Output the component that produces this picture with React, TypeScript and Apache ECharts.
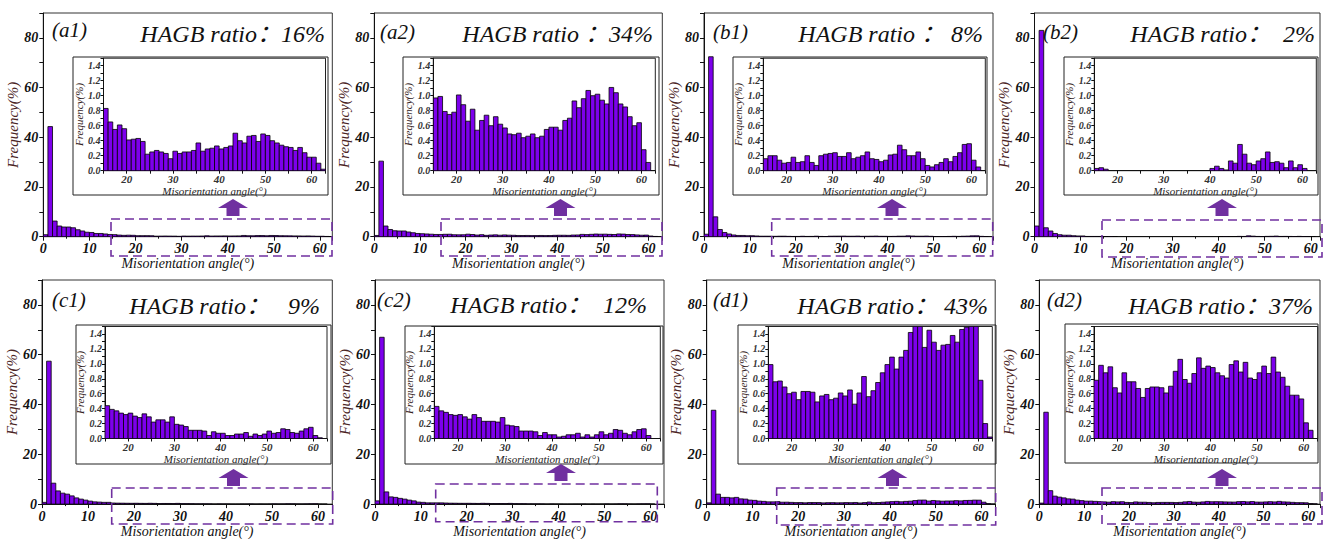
import React, { useEffect, useRef } from "react";
import * as echarts from "echarts";

const FONT = "Liberation Serif";
const RATIO_FONT = "Liberation Serif, Noto Sans CJK SC";
const BAR_FILL = "#7d00ec";
const PURPLE = "#7030a0";

const panelTags = ["(a1)", "(a2)", "(b1)", "(b2)", "(c1)", "(c2)", "(d1)", "(d2)"];
const ratioTexts = [
  "HAGB ratio：16%",
  "HAGB ratio ：34%",
  "HAGB ratio ： 8%",
  "HAGB ratio：  2%",
  "HAGB ratio：   9%",
  "HAGB ratio：  12%",
  "HAGB ratio： 43%",
  "HAGB ratio：37%",
];

const mainXTicks = [0, 10, 20, 30, 40, 50, 60];
const mainYTicks = [0, 20, 40, 60, 80];
const insetXTicks = [20, 30, 40, 50, 60];
const insetYTicks = [0, 0.2, 0.4, 0.6, 0.8, 1.0, 1.2, 1.4];

// Low-angle bins 0..14 (1° bins), main scale
const a1Low = [0.8, 44.3, 6.3, 4.3, 3.9, 3.9, 3.6, 2.8, 2.3, 1.8, 1.7, 1.3, 1.3, 1.1, 0.9];
const a2Low = [0.5, 30.4, 4.3, 2.9, 2.4, 2.3, 2.3, 1.9, 1.6, 1.3, 1.2, 1.1, 1.0, 0.9, 0.9];
const b1Low = [1.0, 72.4, 8.0, 2.9, 1.7, 1.1, 0.7, 0.5, 0.5, 0.4, 0.4, 0.3, 0.2, 0.2, 0.2];
const b2Low = [4.3, 83.0, 3.6, 2.3, 1.3, 0.8, 0.6, 0.6, 0.4, 0.3, 0.3, 0.1, 0.1, 0.1, 0.1];
const c1Low = [0.7, 57.4, 8.4, 5.3, 4.4, 4.0, 3.3, 2.5, 2.0, 1.6, 1.2, 0.9, 0.8, 0.7, 0.7];
const c2Low = [1.3, 67.0, 4.9, 2.9, 2.7, 2.3, 2.0, 1.6, 1.3, 0.8, 0.7, 0.5, 0.5, 0.5, 0.5];
const d1Low = [0.5, 37.7, 4.0, 2.7, 2.7, 2.5, 2.7, 2.1, 2.0, 1.6, 1.5, 1.2, 1.1, 0.9, 0.9];
const d2Low = [0.4, 36.9, 5.4, 3.2, 2.8, 2.5, 2.1, 2.0, 1.6, 1.4, 1.2, 1.2, 1.1, 1.0, 0.9];

// High-angle bins 15..62 (1° bins), shown in the insets
const a1High = [
  0.83, 0.65, 0.55, 0.61, 0.56, 0.41, 0.42, 0.43, 0.39, 0.22,
  0.25, 0.27, 0.25, 0.23, 0.16, 0.26, 0.23, 0.25, 0.25, 0.27,
  0.37, 0.26, 0.29, 0.30, 0.33, 0.29, 0.31, 0.33, 0.50, 0.40,
  0.37, 0.46, 0.47, 0.39, 0.49, 0.47, 0.40, 0.37, 0.34, 0.32,
  0.31, 0.27, 0.31, 0.24, 0.18, 0.18, 0.10, 0.02,
];
const a2High = [
  0.97, 0.99, 0.79, 0.75, 0.78, 1.01, 0.88, 0.66, 0.82, 0.54,
  0.67, 0.74, 0.60, 0.72, 0.62, 0.57, 0.49, 0.48, 0.50, 0.44,
  0.46, 0.49, 0.44, 0.46, 0.55, 0.58, 0.58, 0.54, 0.67, 0.70,
  0.93, 0.84, 0.96, 1.07, 1.00, 1.02, 0.94, 0.89, 1.11, 1.04,
  0.89, 0.85, 0.72, 0.60, 0.64, 0.28, 0.11, 0,
];
const b1High = [
  0.16, 0.20, 0.20, 0.14, 0.10, 0.11, 0.18, 0.11, 0.12, 0.20,
  0.11, 0.07, 0.20, 0.22, 0.23, 0.24, 0.19, 0.19, 0.24, 0.16,
  0.18, 0.20, 0.25, 0.16, 0.15, 0.12, 0.14, 0.21, 0.22, 0.34,
  0.28, 0.20, 0.20, 0.25, 0.16, 0.07, 0.05, 0.08, 0.11, 0.16,
  0.12, 0.19, 0.24, 0.35, 0.36, 0.14, 0.05, 0,
];
const b2High = [
  0.03, 0.04, 0.02, 0, 0, 0, 0, 0, 0, 0,
  0, 0, 0, 0, 0, 0, 0, 0, 0, 0,
  0, 0, 0, 0, 0, 0.03, 0.06, 0.03, 0.01, 0.13,
  0.10, 0.35, 0.22, 0.10, 0.08, 0.13, 0.16, 0.25, 0.11, 0.12,
  0.10, 0.04, 0.13, 0.04, 0.08, 0.03, 0, 0,
];
const c1High = [
  0.44, 0.39, 0.37, 0.34, 0.32, 0.34, 0.30, 0.28, 0.33, 0.29,
  0.22, 0.25, 0.25, 0.22, 0.29, 0.19, 0.18, 0.16, 0.11, 0.11,
  0.11, 0.10, 0.04, 0.09, 0.07, 0.07, 0.04, 0.04, 0.06, 0.06,
  0.08, 0.03, 0.06, 0.04, 0.06, 0.10, 0.07, 0.08, 0.13, 0.12,
  0.08, 0.07, 0.10, 0.13, 0.15, 0.04, 0.01, 0,
];
const c2High = [
  0.43, 0.37, 0.35, 0.32, 0.31, 0.32, 0.29, 0.26, 0.32, 0.28,
  0.23, 0.23, 0.23, 0.22, 0.28, 0.18, 0.17, 0.16, 0.10, 0.10,
  0.10, 0.09, 0.04, 0.08, 0.05, 0.05, 0.02, 0.03, 0.05, 0.05,
  0.07, 0.02, 0.05, 0.02, 0.05, 0.09, 0.05, 0.07, 0.12, 0.11,
  0.07, 0.05, 0.09, 0.12, 0.13, 0.04, 0, 0,
];
const d1High = [
  0.99, 0.76, 0.77, 0.69, 0.60, 0.62, 0.52, 0.63, 0.63, 0.62,
  0.49, 0.57, 0.59, 0.52, 0.54, 0.61, 0.57, 0.65, 0.46, 0.61,
  0.83, 0.56, 0.64, 0.75, 0.88, 0.99, 1.09, 0.93, 1.09, 1.18,
  1.42, 1.60, 1.62, 1.22, 1.45, 1.29, 1.18, 1.25, 1.26, 1.38,
  1.29, 1.46, 1.49, 1.60, 1.58, 0.78, 0.20, 0.02,
];
const d2High = [
  0.78, 0.98, 0.88, 0.96, 0.68, 0.61, 0.88, 0.76, 0.76, 0.67,
  0.55, 0.67, 0.69, 0.69, 0.68, 0.61, 0.70, 0.90, 1.06, 0.79,
  0.74, 0.87, 1.08, 0.94, 0.97, 0.95, 0.88, 0.84, 0.81, 0.99,
  1.04, 0.89, 1.02, 0.81, 0.79, 0.88, 0.97, 0.87, 1.09, 0.89,
  0.82, 0.70, 0.58, 0.58, 0.53, 0.21, 0.11, 0,
];

const lowSets = [a1Low, a2Low, b1Low, b2Low, c1Low, c2Low, d1Low, d2Low];
const highSets = [a1High, a2High, b1High, b2High, c1High, c2High, d1High, d2High];
const HIGH_START = 15;

// Layout (pixels): main grid [left, top, width, height], inset grid, inset box, dashed box, arrow [cx, top], tag, ratio
const layout = [
  { main: [43.3, 13, 289, 223.7], xMax: 62.7, inset: [103.5, 58.2, 222, 112.5], box: [73, 57, 255, 138], dash: [111, 219, 221, 37], arrow: [233, 199], tag: [52, 30], ratio: [325, 34] },
  { main: [374.3, 13, 288, 223.7], xMax: 63, inset: [433.3, 58.2, 222, 112.5], box: [403, 57, 256, 138], dash: [441, 219, 221, 37], arrow: [560.5, 199], tag: [380, 32], ratio: [653, 34] },
  { main: [704, 13, 289, 223.7], xMax: 63, inset: [763.3, 58.2, 222, 112.5], box: [733, 57, 254, 138], dash: [771.7, 219, 221, 37], arrow: [892, 199], tag: [713, 32], ratio: [983, 34] },
  { main: [1034.5, 13, 285.5, 223.7], xMax: 62, inset: [1094.3, 58.2, 222, 112.5], box: [1064, 57, 254, 138], dash: [1102, 220, 220, 37], arrow: [1222, 199], tag: [1043, 32], ratio: [1315, 34] },
  { main: [42, 280, 290.3, 226.7], xMax: 63.1, inset: [105, 326.5, 222, 112], box: [76, 325, 255, 139], dash: [111.7, 488, 221, 36], arrow: [233.5, 469], tag: [52, 300], ratio: [320, 306] },
  { main: [375, 280, 289, 226.7], xMax: 63, inset: [434.3, 326.5, 226, 112], box: [405, 326, 258, 138], dash: [435.7, 484, 221.6, 37.7], arrow: [561, 464], tag: [377, 300], ratio: [647, 305] },
  { main: [706.7, 280, 288.5, 226.7], xMax: 63, inset: [768.3, 326.5, 224, 112], box: [738, 325, 258, 139], dash: [776.7, 488, 219, 37], arrow: [892.5, 469], tag: [713, 300], ratio: [988, 306] },
  { main: [1039.3, 280, 281, 226.7], xMax: 62.6, inset: [1094, 326.5, 223.7, 112], box: [1065, 324, 253, 139], dash: [1102, 488, 220, 36], arrow: [1222, 469], tag: [1047, 300], ratio: [1313, 306] },
];

const near = (v: number, list: number[]) => list.some((t) => Math.abs(t - v) < 1e-6);

const renderBar = (params: any, api: any) => {
  const x0 = api.value(0);
  const v = api.value(1);
  if (!v) return null;
  const p0 = api.coord([x0, v]);
  const p1 = api.coord([x0 + 1, 0]);
  const cs = params.coordSys;
  const shape = echarts.graphic.clipRectByRect(
    { x: p0[0], y: p0[1], width: p1[0] - p0[0], height: p1[1] - p0[1] },
    { x: cs.x, y: cs.y, width: cs.width, height: cs.height }
  );
  if (!shape) return null;
  return {
    type: "rect",
    shape,
    style: { fill: BAR_FILL, stroke: "#000", lineWidth: 0.8 },
  };
};

function buildOption() {
  const grid: any[] = [];
  const xAxis: any[] = [];
  const yAxis: any[] = [];
  const series: any[] = [];
  const graphic: any[] = [];

  layout.forEach((L, i) => {
    const low = lowSets[i];
    const high = highSets[i];
    const mainData = [
      ...low.map((v, k) => [k, v]),
      ...high.map((v, k) => [HIGH_START + k, v]),
    ];
    const insetData = high.map((v, k) => [HIGH_START + k, v]);
    const row2 = L.main[1] > 100;

    // main grid
    const gm = grid.length;
    grid.push({
      left: L.main[0], top: L.main[1], width: L.main[2], height: L.main[3],
      show: true, borderColor: "#333", borderWidth: 1, backgroundColor: "transparent",
      containLabel: false,
    });
    xAxis.push({
      type: "value", gridIndex: gm, min: 0, max: L.xMax, interval: 10,
      axisLine: { show: true, onZero: false, lineStyle: { color: "#111", width: 1 } },
      axisTick: { show: true, length: 4, lineStyle: { color: "#111" } },
      minorTick: { show: true, splitNumber: 2, length: 2, lineStyle: { color: "#111" } },
      splitLine: { show: false },
      axisLabel: {
        margin: 5, fontFamily: FONT, fontStyle: "italic", fontWeight: "bold", fontSize: 14, color: "#111",
        formatter: (v: number) => (near(v, mainXTicks) ? String(Math.round(v)) : ""),
      },
      name: "Misorientation angle(°)", nameLocation: "middle", nameGap: row2 ? 19 : 20,
      nameTextStyle: { fontFamily: FONT, fontStyle: "italic", fontSize: 14, color: "#111" },
    });
    yAxis.push({
      type: "value", gridIndex: gm, min: 0, max: 90, interval: 10,
      axisLine: { show: true, onZero: false, lineStyle: { color: "#111", width: 1 } },
      axisTick: { show: true, length: 4, lineStyle: { color: "#111" } },
      splitLine: { show: false },
      axisLabel: {
        margin: 5, fontFamily: FONT, fontStyle: "italic", fontWeight: "bold", fontSize: 14, color: "#111",
        formatter: (v: number) => (near(v, mainYTicks) ? String(Math.round(v)) : ""),
      },
      name: "Frequency(%)", nameLocation: "middle", nameGap: 21, nameRotate: 90,
      nameTextStyle: { fontFamily: FONT, fontStyle: "italic", fontSize: 15, color: "#4a2424" },
    });
    series.push({
      type: "custom", xAxisIndex: gm, yAxisIndex: gm, data: mainData,
      encode: { x: 0, y: 1 }, renderItem: renderBar, silent: true, clip: true,
    });

    // inset grid
    const gi = grid.length;
    grid.push({
      left: L.inset[0], top: L.inset[1], width: L.inset[2], height: L.inset[3],
      show: true, borderColor: "#222", borderWidth: 1, backgroundColor: "#fff",
      containLabel: false, z: 5,
    });
    xAxis.push({
      type: "value", gridIndex: gi, min: 15, max: 63, interval: 5,
      axisLine: { show: true, onZero: false, lineStyle: { color: "#111", width: 1 } },
      axisTick: { show: true, length: 3, lineStyle: { color: "#111" } },
      splitLine: { show: false },
      axisLabel: {
        margin: 3, fontFamily: FONT, fontStyle: "italic", fontWeight: "bold", fontSize: 11, color: "#333",
        formatter: (v: number) => (near(v, insetXTicks) ? String(Math.round(v)) : ""),
      },
      name: "Misorientation angle(°)", nameLocation: "middle", nameGap: 14,
      nameTextStyle: { fontFamily: FONT, fontStyle: "italic", fontSize: 11, color: "#222" },
      z: 6,
    });
    yAxis.push({
      type: "value", gridIndex: gi, min: 0, max: 1.5, interval: 0.1,
      axisLine: { show: true, onZero: false, lineStyle: { color: "#111", width: 1 } },
      axisTick: { show: true, length: 3, lineStyle: { color: "#111" } },
      splitLine: { show: false },
      axisLabel: {
        margin: 3, fontFamily: FONT, fontStyle: "italic", fontWeight: "bold", fontSize: 10, color: "#333",
        formatter: (v: number) => (near(v, insetYTicks) ? v.toFixed(1) : ""),
      },
      name: "Frequency(%)", nameLocation: "middle", nameGap: 19, nameRotate: 90,
      nameTextStyle: { fontFamily: FONT, fontStyle: "italic", fontSize: 11, color: "#332222" },
      z: 6,
    });
    series.push({
      type: "custom", xAxisIndex: gi, yAxisIndex: gi, data: insetData,
      encode: { x: 0, y: 1 }, renderItem: renderBar, silent: true, clip: true, z: 7,
    });

    // inset outer box
    graphic.push({
      type: "rect", shape: { x: L.box[0], y: L.box[1], width: L.box[2], height: L.box[3] },
      style: { fill: "none", stroke: "#222", lineWidth: 1 }, z: 10, silent: true,
    });
    // dashed zoom box
    graphic.push({
      type: "rect", shape: { x: L.dash[0], y: L.dash[1], width: L.dash[2], height: L.dash[3] },
      style: { fill: "none", stroke: PURPLE, lineWidth: 1.6, lineDash: [9, 5] }, z: 10, silent: true,
    });
    // arrow
    const cx = L.arrow[0];
    const t = L.arrow[1];
    graphic.push({
      type: "polygon",
      shape: {
        points: [
          [cx - 15, t + 9], [cx, t], [cx + 15, t + 9], [cx + 6.5, t + 9],
          [cx + 6.5, t + 17], [cx - 6.5, t + 17], [cx - 6.5, t + 9],
        ],
      },
      style: { fill: PURPLE }, z: 10, silent: true,
    });
    // panel tag
    graphic.push({
      type: "text", x: L.tag[0], y: L.tag[1], z: 10, silent: true,
      style: {
        text: panelTags[i], fill: "#111", fontFamily: FONT, fontStyle: "italic", fontSize: 21,
        align: "left", verticalAlign: "middle", textAlign: "left", textVerticalAlign: "middle",
      },
    });
    // ratio text
    graphic.push({
      type: "text", x: L.ratio[0], y: L.ratio[1], z: 10, silent: true,
      style: {
        text: ratioTexts[i], fill: "#111", fontFamily: RATIO_FONT, fontStyle: "italic", fontSize: 24,
        align: "right", verticalAlign: "middle", textAlign: "right", textVerticalAlign: "middle",
      },
    });
  });

  return {
    animation: false,
    backgroundColor: "#fff",
    grid, xAxis, yAxis, series, graphic,
  };
}

export default function App() {
  const ref = useRef<HTMLDivElement>(null);
  useEffect(() => {
    if (!ref.current) return;
    const chart = echarts.init(ref.current, undefined, { renderer: "svg" });
    chart.setOption(buildOption() as any);
    return () => chart.dispose();
  }, []);
  return (
    <div
      ref={ref}
      style={{ position: "absolute", left: 0, top: 0, width: 1323, height: 539, background: "#fff" }}
    />
  );
}
